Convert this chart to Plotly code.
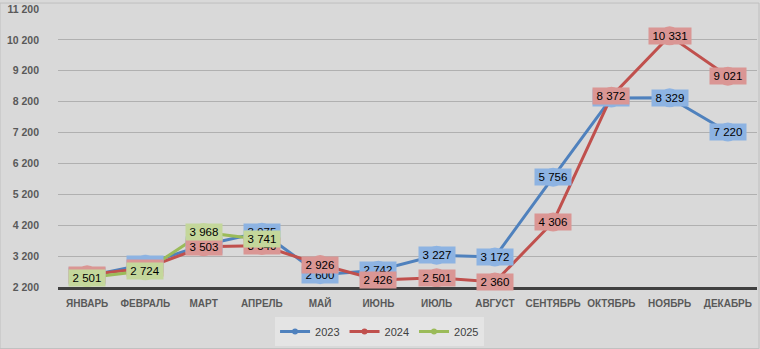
import plotly.graph_objects as go

months = ["ЯНВАРЬ", "ФЕВРАЛЬ", "МАРТ", "АПРЕЛЬ", "МАЙ", "ИЮНЬ", "ИЮЛЬ",
          "АВГУСТ", "СЕНТЯБРЬ", "ОКТЯБРЬ", "НОЯБРЬ", "ДЕКАБРЬ"]
y2023 = [2550, 2940, 3560, 3975, 2600, 2742, 3227, 3172, 5756, 8320, 8329, 7220]
y2024 = [2600, 2810, 3503, 3540, 2926, 2426, 2501, 2360, 4306, 8372, 10331, 9021]
y2025 = [2501, 2724, 3968, 3741]
series_names = ["2023", "2024", "2025"]
tick_vals = [2200, 3200, 4200, 5200, 6200, 7200, 8200, 9200, 10200, 11200]

line_colors = ["#4f81bd", "#c0504d", "#9bbb59"]
box_colors = ["#8db3e2", "#da9694", "#c4d79b"]

fig = go.Figure()
annotations = []
for name, ys, lc, bc in zip(series_names, [y2023, y2024, y2025], line_colors, box_colors):
    xs = months[:len(ys)]
    fig.add_trace(go.Scatter(
        x=xs, y=ys, mode="lines+markers", name=name, showlegend=False,
        line=dict(color=lc, width=3),
        marker=dict(size=19, color=bc, line=dict(width=0)),
        hoverinfo="skip"))
    fig.add_trace(go.Scatter(
        x=[None], y=[None], mode="lines+markers", name=name,
        line=dict(color=lc, width=3), marker=dict(size=6, color=lc)))
    for x, y in zip(xs, ys):
        txt = f"{y:,}".replace(",", " ")
        annotations.append(dict(
            x=x, y=y, xref="x", yref="y", text=txt, showarrow=False,
            xanchor="center", yanchor="middle",
            font=dict(family="Liberation Sans", size=11.5, color="#000000"),
            bgcolor=bc, borderpad=0, width=len(txt) * 6 + 6, height=16))

fig.update_layout(
    width=760, height=349,
    margin=dict(l=58, r=3, t=7, b=62),
    paper_bgcolor="#d9d9d9", plot_bgcolor="#d9d9d9",
    separators=", ",
    annotations=annotations,
    font=dict(family="Liberation Sans", color="#595959"),
    legend=dict(orientation="h", x=0.46, xanchor="center", y=-0.108, yanchor="top",
                bgcolor="#e4e4e4", font=dict(size=11, color="#404040"),
                itemwidth=30, tracegroupgap=0),
    showlegend=True,
)
fig.update_xaxes(
    categoryorder="array", categoryarray=months, range=[-0.5, 11.5],
    showgrid=False, showline=True, linecolor="#404040", linewidth=3,
    ticks="", ticklabelstandoff=5,
    tickfont=dict(family="Liberation Sans", size=10, color="#595959", weight="bold"),
    fixedrange=True)
fig.update_yaxes(
    range=[2200, 11200], tickvals=tick_vals, tickformat=",d",
    showgrid=True, gridcolor="#b0b0b0", gridwidth=1, zeroline=False,
    ticks="", ticklabelstandoff=18,
    tickfont=dict(family="Liberation Sans", size=10.5, color="#595959", weight="bold"),
    fixedrange=True)

fig.add_shape(type="rect", xref="paper", yref="paper",
              x0=-58/699, x1=1 + 2/699, y0=-62/280, y1=1 + 6/280,
              line=dict(color="#bfbfbf", width=1), layer="below")

fig.write_html("out.html")
